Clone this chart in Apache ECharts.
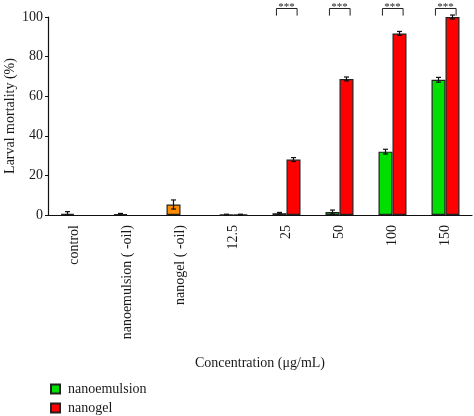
<!DOCTYPE html>
<html>
<head>
<meta charset="utf-8">
<script src="https://cdn.jsdelivr.net/npm/echarts@6/dist/echarts.min.js"></script>
<style>html,body{margin:0;padding:0;background:#fff}#c{width:474px;height:416px}</style>
</head>
<body>
<div id="c"></div>
<script>
var categories = ['control', 'nanoemulsion ( -oil)', 'nanogel ( -oil)', '12.5', '25', '50', '100', '150'];
var controlValues = [0.6, 0.4, 5.3, null, null, null, null, null];
var controlErrors = [1.1, 0.4, 2.3, null, null, null, null, null];
var controlColors = ['#8a8a8a', '#00e000', '#ff8c00'];
var nanoemulsionValues = [null, null, null, 0.2, 0.9, 1.5, 32.0, 68.3];
var nanoemulsionErrors = [null, null, null, 0.2, 0.4, 1.0, 1.2, 1.2];
var nanogelValues = [null, null, null, 0.2, 28.0, 68.7, 91.7, 100.0];
var nanogelErrors = [null, null, null, 0.2, 1.0, 1.0, 1.0, 1.0];
var significantCategories = ['25', '50', '100', '150'];
var significanceLabel = '***';
var yTicks = [0, 20, 40, 60, 80, 100];

var FONT = 'Liberation Serif';
var TXT = '#1a1a1a';
var BAR_W = 14;

function errData(vals, errs) {
  var out = [];
  for (var i = 0; i < vals.length; i++) {
    if (vals[i] != null && errs[i] != null) out.push([i, vals[i], errs[i]]);
  }
  return out;
}

function errSeries(vals, errs, sign) {
  return {
    type: 'custom',
    z: 5,
    silent: true,
    data: errData(vals, errs),
    renderItem: function (params, api) {
      var i = api.value(0), v = api.value(1), e = api.value(2);
      var top = api.coord([i, v + e]);
      var bot = api.coord([i, Math.max(0, v - e)]);
      var x = top[0] + sign * BAR_W / 2;
      var cap = 2.5;
      var st = { stroke: '#111', lineWidth: 1.2 };
      return {
        type: 'group',
        children: [
          { type: 'line', shape: { x1: x, y1: top[1], x2: x, y2: bot[1] }, style: st },
          { type: 'line', shape: { x1: x - cap, y1: top[1], x2: x + cap, y2: top[1] }, style: st },
          { type: 'line', shape: { x1: x - cap, y1: bot[1], x2: x + cap, y2: bot[1] }, style: st }
        ]
      };
    }
  };
}

var sigData = significantCategories.map(function (c) { return [categories.indexOf(c), 100.7, 104.3, 105.2]; });

var chart = echarts.init(document.getElementById('c'), null, { renderer: 'canvas' });
chart.setOption({
  animation: false,
  textStyle: { fontFamily: FONT, color: TXT },
  grid: { left: 48, right: 2, top: 17, bottom: 201, containLabel: false, outerBoundsMode: 'none' },
  legend: {
    data: ['nanoemulsion', 'nanogel'],
    orient: 'vertical',
    left: 50,
    top: 382,
    padding: 0,
    itemGap: 5,
    itemWidth: 9,
    itemHeight: 9,
    icon: 'rect',
    textStyle: { fontFamily: FONT, fontSize: 14, color: TXT, padding: [0, 0, 0, 3] }
  },
  xAxis: {
    type: 'category',
    data: categories,
    name: 'Concentration (\u03bcg/mL)',
    nameLocation: 'middle',
    nameGap: 141,
    nameMoveOverlap: false,
    nameTextStyle: { fontFamily: FONT, fontSize: 14, color: TXT },
    axisLine: { lineStyle: { color: '#111', width: 1.2 } },
    axisTick: { show: false },
    axisLabel: { rotate: 90, fontFamily: FONT, fontSize: 14, color: TXT, margin: 10, interval: 0 }
  },
  yAxis: {
    type: 'value',
    min: 0,
    max: 100,
    interval: 20,
    name: 'Larval mortality (%)',
    nameLocation: 'middle',
    nameGap: 31,
    nameMoveOverlap: false,
    nameTextStyle: { fontFamily: FONT, fontSize: 14, color: TXT },
    axisLine: { show: true, lineStyle: { color: '#111', width: 1.2 } },
    axisTick: { show: true, length: 3, inside: false, lineStyle: { color: '#111' } },
    splitLine: { show: false },
    axisLabel: {
      fontFamily: FONT, fontSize: 14, color: TXT, margin: 5,
      formatter: function (v) { return yTicks.indexOf(v) >= 0 ? String(v) : ''; }
    }
  },
  series: [
    {
      name: 'controls',
      type: 'bar',
      stack: 'left',
      barWidth: BAR_W,
      barGap: '0%',
      data: controlValues.map(function (v, i) {
        return { value: v, itemStyle: { color: controlColors[i] || '#888' } };
      }),
      itemStyle: { borderColor: '#222', borderWidth: 1.2 }
    },
    {
      name: 'nanoemulsion',
      type: 'bar',
      stack: 'left',
      barWidth: BAR_W,
      barGap: '0%',
      data: nanoemulsionValues,
      itemStyle: { color: '#00e000', borderColor: '#222', borderWidth: 1.2 }
    },
    {
      name: 'nanogel',
      type: 'bar',
      barWidth: BAR_W,
      barGap: '0%',
      data: nanogelValues,
      itemStyle: { color: '#ff0000', borderColor: '#222', borderWidth: 1.2 }
    },
    errSeries(controlValues, controlErrors, -1),
    errSeries(nanoemulsionValues, nanoemulsionErrors, -1),
    errSeries(nanogelValues, nanogelErrors, 1),
    {
      type: 'custom',
      clip: false,
      silent: true,
      z: 6,
      data: sigData,
      renderItem: function (params, api) {
        var i = api.value(0);
        var lo = api.coord([i, api.value(1)]);
        var hi = api.coord([i, api.value(2)]);
        var tx = api.coord([i, api.value(3)]);
        var bw = api.size([1, 0])[0];
        var x1 = lo[0] - bw * 0.19, x2 = lo[0] + bw * 0.2;
        return {
          type: 'group',
          children: [
            { type: 'polyline', shape: { points: [[x1, lo[1]], [x1, hi[1]], [x2, hi[1]], [x2, lo[1]]] },
              style: { stroke: '#222', lineWidth: 1, fill: null } },
            { type: 'text', style: { text: significanceLabel, x: lo[0], y: tx[1], align: 'center', verticalAlign: 'middle',
              font: '11px "' + FONT + '"', fill: '#222' } }
          ]
        };
      }
    }
  ]
});
</script>
</body>
</html>
